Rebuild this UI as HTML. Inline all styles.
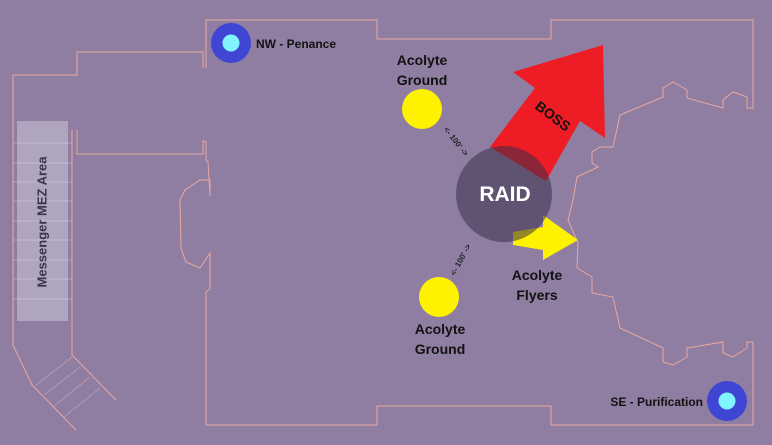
<!DOCTYPE html>
<html><head><meta charset="utf-8"><style>
html,body{margin:0;padding:0;background:#8f7ea2;}
svg{display:block}
text{font-family:"Liberation Sans",sans-serif;font-weight:bold;}
</style></head><body>
<svg width="772" height="445" viewBox="0 0 772 445" xmlns="http://www.w3.org/2000/svg">
<rect width="772" height="445" fill="#8f7ea2"/>
<g fill="none" stroke="#e8a8a0" stroke-width="1">
<polyline points="206,68 206,20 377,20 377,39 551,39 551,20 753,20 753,108 747,108 747,97 733,92 723,100 723,108 687,98 687,90 673,82 663,88 663,97 620,115 613,147 600,147 592,152 592,163 598,167 577,177 573,200 568,220 578,243 577,268 592,277 592,293 613,297 620,328 663,348 663,362 673,365 687,357 687,348 723,342 723,353 733,357 747,348 747,342 753,342 753,425 551,425 551,406 377,406 377,425 206,425 206,292 210,289 210,253 200,268 186,262 181,248 180,200 185,190 200,180 210,180 210,196 208,162 206,160 206,142 203,141 203,154 77,154 77,130"/>
<polyline points="203,68 203,52 77,52 77,75 13,75 13,345 32,385 76,430"/>
<polyline points="72,130 72,355 116,400"/>
<g stroke="#c9a3b3" stroke-width="0.7">
<line x1="72" y1="357" x2="36" y2="385"/><line x1="80" y1="367" x2="44" y2="395"/><line x1="90" y1="377" x2="54" y2="406"/><line x1="100" y1="388" x2="64" y2="417"/>
</g>
</g>
<rect x="17" y="121" width="51" height="200" fill="#ffffff" fill-opacity="0.3"/>
<g stroke="#ffffff" stroke-opacity="0.25" stroke-width="1">
<line x1="13" y1="143" x2="72" y2="143"/><line x1="13" y1="163" x2="72" y2="163"/><line x1="13" y1="182" x2="72" y2="182"/><line x1="13" y1="201" x2="72" y2="201"/><line x1="13" y1="221" x2="72" y2="221"/><line x1="13" y1="240" x2="72" y2="240"/><line x1="13" y1="260" x2="72" y2="260"/><line x1="13" y1="279" x2="72" y2="279"/><line x1="13" y1="299" x2="72" y2="299"/>
</g>
<text x="43" y="222" font-size="13" fill="#3c3548" text-anchor="middle" transform="rotate(-90 43 222)" dominant-baseline="middle">Messenger MEZ Area</text>
<circle cx="231" cy="43" r="20" fill="#4046d4"/><circle cx="231" cy="43" r="8.5" fill="#80f4ff"/>
<text x="256" y="48" font-size="12" fill="#111">NW - Penance</text>
<circle cx="727" cy="401" r="20" fill="#4046d4"/><circle cx="727" cy="401" r="8.5" fill="#80f4ff"/>
<text x="703" y="406" font-size="12" fill="#111" text-anchor="end">SE - Purification</text>
<circle cx="422" cy="109" r="20" fill="#fff200"/>
<circle cx="439" cy="297" r="20" fill="#fff200"/>
<text font-size="14" fill="#111" text-anchor="middle"><tspan x="422" y="65">Acolyte</tspan><tspan x="422" y="85">Ground</tspan></text>
<text font-size="14" fill="#111" text-anchor="middle"><tspan x="440" y="334">Acolyte</tspan><tspan x="440" y="354">Ground</tspan></text>
<text font-size="14" fill="#111" text-anchor="middle"><tspan x="537" y="280">Acolyte</tspan><tspan x="537" y="300">Flyers</tspan></text>
<polygon points="490,147 535,88 513,72 603,45 605,138 580,121 546,181" fill="#ee1c25"/>
<text x="550" y="120" font-size="14" fill="#111" text-anchor="middle" transform="rotate(37 550 120)">BOSS</text>
<polygon points="513,232 543,227 543,215 578,240 543,260 543,250 513,245" fill="#fff200"/>
<circle cx="504" cy="194" r="48" fill="#3b2f48" fill-opacity="0.55"/>
<text x="505" y="201" font-size="21" fill="#fff" text-anchor="middle">RAID</text>
<text x="454" y="143" font-size="8" fill="#222" text-anchor="middle" transform="rotate(52 454 143)">&lt;- 100' -&gt;</text>
<text x="463" y="261" font-size="8" fill="#222" text-anchor="middle" transform="rotate(-62 463 261)">&lt;- 100' -&gt;</text>
</svg>
</body></html>
